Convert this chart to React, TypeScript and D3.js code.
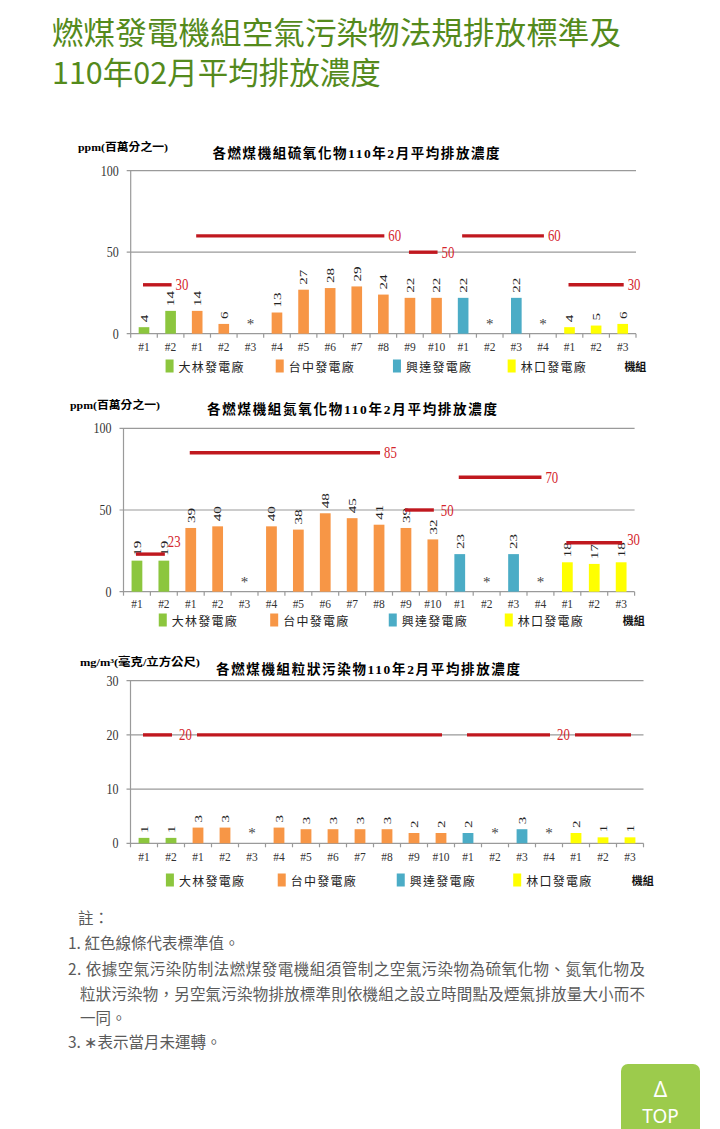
import React from "react";
import * as d3 from "d3";

// ---------- data ----------
const plantNames = ["大林發電廠", "台中發電廠", "興達發電廠", "林口發電廠"];
const plantColors = ["#8cc63e", "#f79646", "#4bacc6", "#ffff00"];
const unitLabels = ["#1", "#2", "#1", "#2", "#3", "#4", "#5", "#6", "#7", "#8", "#9", "#10", "#1", "#2", "#3", "#4", "#1", "#2", "#3"];
const unitPlant = [0, 0, 1, 1, 1, 1, 1, 1, 1, 1, 1, 1, 2, 2, 2, 2, 3, 3, 3];

const soxValues: (number | null)[] = [4, 14, 14, 6, null, 13, 27, 28, 29, 24, 22, 22, 22, null, 22, null, 4, 5, 6];
const noxValues: (number | null)[] = [19, 19, 39, 40, null, 40, 38, 48, 45, 41, 39, 32, 23, null, 23, null, 18, 17, 18];
const pmValues: (number | null)[] = [1.0, 1.0, 2.9, 2.9, null, 2.9, 2.6, 2.6, 2.6, 2.6, 1.9, 1.9, 1.9, null, 2.6, null, 1.9, 1.1, 1.1];

type Std = { start: number; end: number; value: number; label: boolean };
const soxStandards: Std[] = [
  { start: 0, end: 1, value: 30, label: true },
  { start: 2, end: 9, value: 60, label: true },
  { start: 10, end: 11, value: 50, label: true },
  { start: 12, end: 15, value: 60, label: true },
  { start: 16, end: 18, value: 30, label: true },
];
const noxStandards: Std[] = [
  { start: 0, end: 1, value: 23, label: true },
  { start: 2, end: 9, value: 85, label: true },
  { start: 10, end: 11, value: 50, label: true },
  { start: 12, end: 15, value: 70, label: true },
  { start: 16, end: 18, value: 30, label: true },
];
const pmStandards: Std[] = [
  { start: 0, end: 1, value: 20, label: true },
  { start: 2, end: 11, value: 20, label: false },
  { start: 12, end: 15, value: 20, label: true },
  { start: 16, end: 18, value: 20, label: false },
];

const soxTicks = [0, 50, 100];
const noxTicks = [0, 50, 100];
const pmTicks = [0, 10, 20, 30];

const pageTitle = ["燃煤發電機組空氣污染物法規排放標準及", "110年02月平均排放濃度"];
const notes = [
  "註：",
  "1. 紅色線條代表標準值。",
  "2. 依據空氣污染防制法燃煤發電機組須管制之空氣污染物為硫氧化物、氮氧化物及",
  "粒狀污染物，另空氣污染物排放標準則依機組之設立時間點及煙氣排放量大小而不",
  "一同。",
  "3. ∗表示當月未運轉。",
];

// ---------- styles ----------
const SERIF = "'Liberation Serif', 'DejaVu Serif', 'Noto Sans CJK TC', serif";
const CJK = "'Noto Sans CJK TC', sans-serif";
const RED_LINE = "#c0181f";
const RED_TEXT = "#d4252c";
const GRID = "#9a9a9a";

type Layout = {
  left: number; right: number; top: number; bottom: number; max: number;
  titleX: number; titleY: number; titleLen: number;
  unitX: number; unitY: number; unitLen: number;
  xLabelY: number; legendY: number;
  stdDy: Record<number, number>; stdDx: Record<number, number>;
};

function T({ x, y, sx = 1, children, ...rest }: any) {
  return (
    <text transform={`translate(${x},${y}) scale(${sx},1)`} dominantBaseline="central" {...rest}>
      {children}
    </text>
  );
}

function Chart({ values, standards, ticks, title, unit, L }: { values: (number | null)[]; standards: Std[]; ticks: number[]; title: string; unit: string; L: Layout }) {
  const idx = d3.range(unitLabels.length);
  const xb = d3.scaleBand<number>().domain(idx).range([L.left, L.right]).paddingInner(0.6).paddingOuter(0.3);
  const xs = d3.scaleBand<number>().domain(idx).range([L.left, L.right]).padding(0);
  const y = d3.scaleLinear().domain([0, L.max]).range([L.bottom, L.top]);
  const cx = (i: number) => (xb(i) as number) + xb.bandwidth() / 2;
  const w = L.right - L.left;
  const legendOffsets = [0.069, 0.287, 0.519, 0.746];
  const fmt = (v: number) => String(Math.round(v));

  return (
    <g>
      <text x={L.unitX} y={L.unitY} dominantBaseline="central" fontFamily={SERIF} fontWeight="bold" fontSize={11} textLength={L.unitLen} lengthAdjust="spacingAndGlyphs">
        {unit}
      </text>
      <text x={L.titleX - L.titleLen / 2} y={L.titleY} dominantBaseline="central" fontFamily={SERIF} fontWeight="bold" fontSize={13.5} textLength={L.titleLen} lengthAdjust="spacing">
        {title}
      </text>
      {ticks.map((t) => (
        <g key={t}>
          <line x1={L.left - 4} x2={L.right} y1={y(t)} y2={y(t)} stroke={GRID} strokeWidth={1.2} />
          <T x={L.left - 12} y={y(t)} sx={0.8} textAnchor="end" fontFamily={SERIF} fontSize={15} fill="#333">
            {t}
          </T>
        </g>
      ))}
      <line x1={L.left} x2={L.left} y1={L.top} y2={L.bottom} stroke={GRID} strokeWidth={1.2} />
      {idx.concat([idx.length]).map((i) => {
        const xx = i < idx.length ? (xs(i) as number) : L.right;
        return <line key={"xt" + i} x1={xx} x2={xx} y1={L.bottom} y2={L.bottom + 4} stroke={GRID} strokeWidth={1.2} />;
      })}
      {values.map((v, i) =>
        v === null ? (
          <T key={"b" + i} x={cx(i)} y={L.bottom - 10} textAnchor="middle" fontFamily={SERIF} fontSize={15} fill="#444">
            *
          </T>
        ) : (
          <g key={"b" + i}>
            <rect x={xb(i)} y={y(v)} width={xb.bandwidth()} height={L.bottom - y(v)} fill={plantColors[unitPlant[i]]} />
            <text
              transform={`translate(${cx(i)},${y(v) - 5}) scale(0.75,1) rotate(-90)`}
              dominantBaseline="central"
              textAnchor="start"
              fontFamily={SERIF}
              fontSize={15}
              fill="#222"
            >
              {fmt(v)}
            </text>
          </g>
        )
      )}
      {standards.map((s, k) => {
        const x1 = cx(s.start) - 1;
        const x2 = cx(s.end) + 1;
        const yy = y(s.value);
        return (
          <g key={"s" + k}>
            <line x1={x1} x2={x2} y1={yy} y2={yy} stroke={RED_LINE} strokeWidth={3.4} />
            {s.label && (
              <T x={x2 + 4 + (L.stdDx[k] || 0)} y={yy + (L.stdDy[k] || 0)} sx={0.8} textAnchor="start" fontFamily={SERIF} fontSize={16} fill={RED_TEXT}>
                {s.value}
              </T>
            )}
          </g>
        );
      })}
      {unitLabels.map((u, i) => (
        <T key={"xl" + i} x={cx(i)} y={L.xLabelY} sx={0.85} textAnchor="middle" fontFamily={SERIF} fontSize={13.5} fill="#333">
          {u}
        </T>
      ))}
      {plantNames.map((p, k) => {
        const lx = L.left + legendOffsets[k] * w;
        return (
          <g key={"lg" + k}>
            <rect x={lx} y={L.legendY - 6.5} width={8} height={13} fill={plantColors[k]} />
            <text x={lx + 13} y={L.legendY} dominantBaseline="central" fontFamily={CJK} fontSize={12} fill="#222" textLength={65} lengthAdjust="spacing">
              {p}
            </text>
          </g>
        );
      })}
      <text x={L.left + 0.977 * w} y={L.legendY} dominantBaseline="central" fontFamily={CJK} fontWeight="bold" fontSize={11} fill="#111">
        機組
      </text>
    </g>
  );
}

const L1: Layout = {
  left: 130.7, right: 636, top: 170.7, bottom: 333.7, max: 100,
  titleX: 356, titleY: 153, titleLen: 287,
  unitX: 78, unitY: 147, unitLen: 90,
  xLabelY: 347, legendY: 366, stdDy: {}, stdDx: {},
};
const L2: Layout = {
  left: 123.5, right: 634.6, top: 428.3, bottom: 591.7, max: 100,
  titleX: 352, titleY: 409, titleLen: 290,
  unitX: 70, unitY: 405, unitLen: 90,
  xLabelY: 604, legendY: 620, stdDy: { 0: -13, 4: -3 }, stdDx: { 0: -1, 2: 3, 4: 1 },
};
const L3: Layout = {
  left: 130.5, right: 643.5, top: 680.7, bottom: 843.3, max: 30,
  titleX: 368, titleY: 669, titleLen: 304,
  unitX: 80, unitY: 662, unitLen: 120,
  xLabelY: 857, legendY: 880, stdDy: {}, stdDx: { 0: 3, 2: 3 },
};

export default function App() {
  const noteY = [917, 942, 968, 993, 1017, 1041];
  const noteX = [78, 68, 68, 80, 80, 68];
  const noteLen: (number | undefined)[] = [undefined, undefined, 577, 565, undefined, undefined];
  return (
    <svg width={720} height={1129} style={{ position: "absolute", left: 0, top: 0, background: "#fff" }}>
      <rect x={0} y={0} width={720} height={1129} fill="#fff" />
      {pageTitle.map((t, i) => (
        <text key={t} x={52} y={[44, 84][i]} fontFamily={CJK} fontSize={30.5} fill="#548a1c" textLength={i === 0 ? 569 : undefined} lengthAdjust={i === 0 ? "spacingAndGlyphs" : undefined}>
          {t}
        </text>
      ))}
      <Chart values={soxValues} standards={soxStandards} ticks={soxTicks} title="各燃煤機組硫氧化物110年2月平均排放濃度" unit="ppm(百萬分之一)" L={L1} />
      <Chart values={noxValues} standards={noxStandards} ticks={noxTicks} title="各燃煤機組氮氧化物110年2月平均排放濃度" unit="ppm(百萬分之一)" L={L2} />
      <Chart values={pmValues} standards={pmStandards} ticks={pmTicks} title="各燃煤機組粒狀污染物110年2月平均排放濃度" unit="mg/m³(毫克/立方公尺)" L={L3} />
      {notes.map((n, i) => (
        <text
          key={i}
          x={noteX[i]}
          y={noteY[i]}
          dominantBaseline="central"
          fontFamily={CJK}
          fontSize={15.5}
          fill="#5a5a5a"
          textLength={noteLen[i]}
          lengthAdjust={noteLen[i] ? "spacing" : undefined}
        >
          {n}
        </text>
      ))}
      <rect x={621} y={1064} width={79} height={85} rx={7} fill="#9ccb4c" />
      <text x={660.5} y={1089} textAnchor="middle" dominantBaseline="central" fontFamily="'Noto Sans', sans-serif" fontSize={21} fill="#fff">
        Δ
      </text>
      <text x={660.5} y={1116} textAnchor="middle" dominantBaseline="central" fontFamily="'Noto Sans', sans-serif" fontSize={19} fill="#fff">
        TOP
      </text>
    </svg>
  );
}
